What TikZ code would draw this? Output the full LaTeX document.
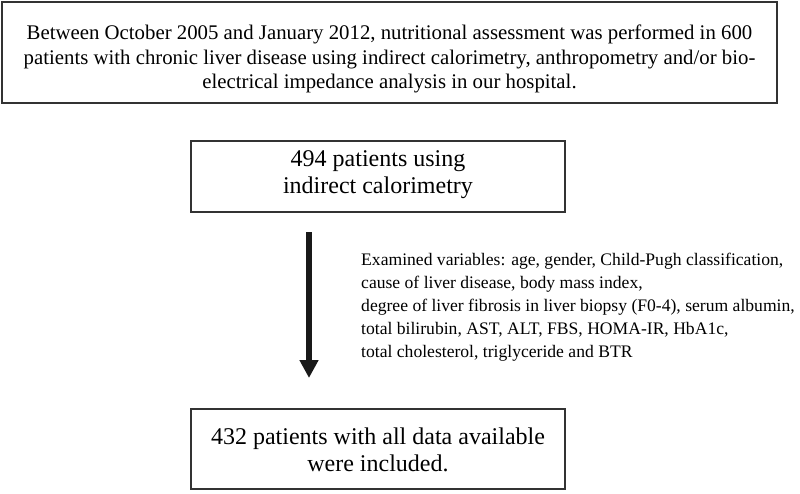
\documentclass[tikz,border=0pt]{standalone}
\usepackage{fontspec}
\setmainfont{Liberation Serif}
\usetikzlibrary{arrows.meta}
\begin{document}
\begin{tikzpicture}[x=1pt,y=-1pt,
  box/.style={draw=black!80, line width=1.5pt, rectangle, inner sep=0pt},
  toptext/.style={font=\fontsize{20.8}{24.5}\selectfont, align=center, inner sep=0pt},
  midtext/.style={font=\fontsize{24}{27}\selectfont, align=center, inner sep=0pt},
  sidetext/.style={font=\fontsize{17.6}{23}\selectfont, align=left, inner sep=0pt},
  flow/.style={line width=5.5pt, draw=black!90, -{Triangle[width=18pt,length=18pt]}}]
\useasboundingbox (0,0) rectangle (800,493);
\node[box, minimum width=775pt, minimum height=101pt] (top) at (389.5,52.5) {};
\node[toptext] (toptxt) at (389.5,59)
  {Between October 2005 and January 2012, nutritional assessment was performed in 600\\
   patients with chronic liver disease using indirect calorimetry, anthropometry and/or bio-\\
   electrical impedance analysis in our hospital.};
\node[box, minimum width=374pt, minimum height=71pt] (mid) at (378,176.5) {};
\node[midtext] (midtxt) at (378,174.5) {494 patients using\\indirect calorimetry};
\node[box, minimum width=374pt, minimum height=80pt] (bot) at (378,449) {};
\node[midtext] (bottxt) at (378,449.5) {432 patients with all data available\\were included.};
\coordinate (a1) at (309,232);
\coordinate (a2) at (309,378);
\draw[flow] (a1) -- (a2);
\node[sidetext, anchor=north west] (vars) at (361,253)
  {Examined variables: age, gender, Child-Pugh classification,\\
   cause of liver disease, body mass index,\\
   degree of liver fibrosis in liver biopsy (F0-4), serum albumin,\\
   total bilirubin, AST, ALT, FBS, HOMA-IR, HbA1c,\\
   total cholesterol, triglyceride and BTR};
\end{tikzpicture}
\end{document}
